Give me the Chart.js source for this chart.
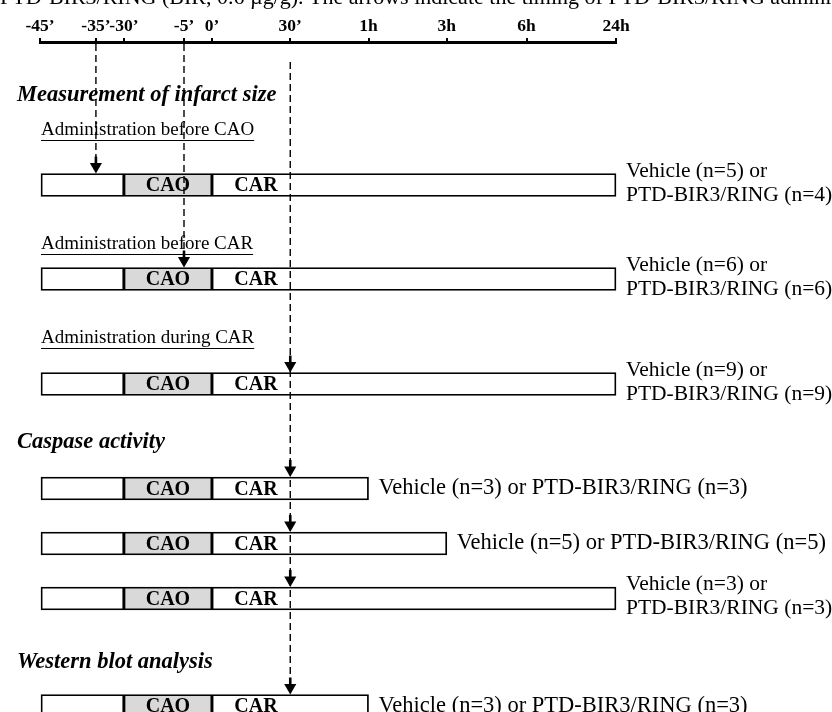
<!DOCTYPE html>
<html>
<head>
<meta charset="utf-8">
<script src="https://cdn.jsdelivr.net/npm/chart.js@4.4.1/dist/chart.umd.min.js"></script>
<style>
html, body { margin: 0; padding: 0; background: #fff; }
#wrap { width: 832px; height: 712px; position: relative; }
</style>
</head>
<body>
<div id="wrap"><canvas id="timeline"></canvas></div>
<script>
// time axis (non linear, as in the drawing)
const tickLabels = ["-45’", "-35’", "-30’", "-5’", "0’", "30’", "1h", "3h", "6h", "24h"];
const tickMinutes = [-45, -35, -30, -5, 0, 30, 60, 180, 360, 1440];
const tickSlots = [0, 2, 3, 5.15, 6.15, 8.95, 11.75, 14.55, 17.4, 20.6];

// protocols
const sections = ["Measurement of infarct size", "Caspase activity", "Western blot analysis"];
const rowSection = [0, 0, 0, 1, 1, 1, 2];
const rowSubtitle = ["Administration before CAO", "Administration before CAR", "Administration during CAR", "", "", "", ""];
const startMin = -45;
const caoMin = [-30, 0];
const rowEndMin = [1440, 1440, 1440, 60, 180, 1440, 60];
const doseMin = [-35, -5, 30, 30, 30, 30, 30];
const vehicleN = [5, 6, 9, 3, 5, 3, 3];
const birN = [4, 6, 9, 3, 5, 3, 3];
const twoLine = [true, true, true, false, false, true, false];

const caption = "PTD-BIR3/RING (BIR, 0.6 µg/g). The arrows indicate the timing of PTD-BIR3/RING administration";

// layout (vertical gaps below the axis)
const GAP = { top: 53, titleSub: 35, barSub: 59, subBar: [55, 35, 46], barTitle: [0, 58, 64], titleBar: [0, 46.5, 43.5], barBar: 55 };
const BAR_H = 23;
const SERIF = '"Liberation Serif", "Times New Roman", serif';

function slot(m) {
  for (let i = 1; i < tickMinutes.length; i++) {
    if (m <= tickMinutes[i]) {
      const a = tickMinutes[i - 1], b = tickMinutes[i];
      return tickSlots[i - 1] + (m - a) / (b - a) * (tickSlots[i] - tickSlots[i - 1]);
    }
  }
  return tickSlots[tickSlots.length - 1];
}

const titleY = [], subY = [], barY = [];
let cur = GAP.top;
rowSection.forEach((s, i) => {
  const newSec = i === 0 || s !== rowSection[i - 1];
  if (newSec) { if (i > 0) cur += GAP.barTitle[s]; titleY[s] = cur; }
  if (rowSubtitle[i]) {
    cur += newSec ? GAP.titleSub : GAP.barSub;
    subY[i] = cur;
    cur += GAP.subBar[i];
  } else {
    cur += newSec ? GAP.titleBar[s] : GAP.barBar;
  }
  barY[i] = cur;
});

const rows = rowSection.map((s, i) => i);
const barTop = i => barY[i] - BAR_H / 2;

const barStyle = { type: 'bar', indexAxis: 'y', grouped: false, barThickness: BAR_H, borderColor: '#000', borderWidth: 1.8, borderSkipped: false, clip: false, order: 3 };

const datasets = [
  Object.assign({}, barStyle, { data: rows.map(i => ({ y: barY[i], x: [slot(startMin), slot(caoMin[0])] })), backgroundColor: '#fff' }),
  Object.assign({}, barStyle, { data: rows.map(i => ({ y: barY[i], x: [slot(caoMin[0]), slot(caoMin[1])] })), backgroundColor: '#d9d9d9' }),
  Object.assign({}, barStyle, { data: rows.map(i => ({ y: barY[i], x: [slot(caoMin[1]), slot(rowEndMin[i])] })), backgroundColor: '#fff' })
];

// dashed guides from the axis down to the last arrow at that time
const guideTop = { "-35": 2, "-5": 2, "30": 20 };
[...new Set(doseMin)].forEach(t => {
  const last = Math.max(...rows.filter(i => doseMin[i] === t));
  datasets.push({
    type: 'line', data: [{ x: slot(t), y: guideTop[t] }, { x: slot(t), y: barTop(last) - 16 }],
    borderColor: '#000', borderWidth: 1.4, borderDash: [7, 4], pointRadius: 0, clip: false, order: 2
  });
});

// arrows
rows.forEach(i => {
  datasets.push({
    type: 'line', data: [{ x: slot(doseMin[i]), y: barTop(i) - 17 }, { x: slot(doseMin[i]), y: barTop(i) - 8 }],
    borderColor: '#000', borderWidth: 2.6, pointRadius: 0, clip: false, order: 1
  });
});
datasets.push({
  type: 'scatter', data: rows.map(i => ({ x: slot(doseMin[i]), y: barTop(i) - 7 })),
  pointStyle: 'triangle', rotation: 180, radius: 7, backgroundColor: '#000', borderColor: '#000', borderWidth: 0, clip: false, order: 0
});

const textPlugin = {
  id: 'texts',
  afterDatasetsDraw(chart) {
    const ctx = chart.ctx, xs = chart.scales.x, ys = chart.scales.y;
    const px = m => xs.getPixelForValue(slot(m));
    const py = v => ys.getPixelForValue(v);
    ctx.save();
    ctx.fillStyle = '#000';
    ctx.strokeStyle = '#000';

    // caption cut at the top
    ctx.font = '22px ' + SERIF;
    ctx.textBaseline = 'alphabetic';
    ctx.textAlign = 'left';
    ctx.fillText(caption, 0, 4);

    // section titles
    ctx.font = 'italic bold 22.5px ' + SERIF;
    ctx.textBaseline = 'middle';
    sections.forEach((t, s) => ctx.fillText(t, 17, py(titleY[s])));

    // underlined sub titles
    ctx.font = '19px ' + SERIF;
    rows.forEach(i => {
      if (!rowSubtitle[i]) return;
      const y = py(subY[i]);
      ctx.fillText(rowSubtitle[i], 41, y);
      const w = ctx.measureText(rowSubtitle[i]).width;
      ctx.lineWidth = 1;
      ctx.beginPath();
      ctx.moveTo(41, y + 10.5);
      ctx.lineTo(41 + w, y + 10.5);
      ctx.stroke();
    });

    // CAO / CAR inside the bars
    ctx.font = 'bold 20px ' + SERIF;
    ctx.textAlign = 'center';
    const caoW = px(caoMin[1]) - px(caoMin[0]);
    rows.forEach(i => {
      const y = py(barY[i]) + 1;
      ctx.fillText('CAO', px(caoMin[0]) + caoW / 2, y);
      ctx.fillText('CAR', px(caoMin[1]) + caoW / 2, y);
    });

    // group sizes
    ctx.textAlign = 'left';
    rows.forEach(i => {
      const x = px(rowEndMin[i]) + 10;
      const y = py(barY[i]);
      const a = 'Vehicle (n=' + vehicleN[i] + ') or', b = 'PTD-BIR3/RING (n=' + birN[i] + ')';
      if (twoLine[i]) {
        ctx.font = '21.5px ' + SERIF;
        ctx.fillText(a, x, y - 14);
        ctx.fillText(b, x, y + 10);
      } else {
        ctx.font = '22.5px ' + SERIF;
        ctx.fillText(a + ' ' + b, x, y);
      }
    });
    ctx.restore();
  }
};

new Chart(document.getElementById('timeline'), {
  type: 'bar',
  data: { datasets: datasets },
  options: {
    responsive: true,
    maintainAspectRatio: false,
    animation: false,
    layout: { autoPadding: false, padding: { left: 40, right: 216, top: 0, bottom: 0 } },
    plugins: { legend: { display: false }, tooltip: { enabled: false } },
    scales: {
      x: {
        type: 'linear', position: 'top', offset: false,
        min: tickSlots[0], max: tickSlots[tickSlots.length - 1],
        afterBuildTicks: s => { s.ticks = tickSlots.map(v => ({ value: v })); },
        afterFit: s => { s.height = 42; },
        ticks: {
          autoSkip: false, maxRotation: 0, padding: 1, color: '#000',
          font: { family: SERIF, size: 17.5, weight: 'bold' },
          callback: (v, idx) => tickLabels[idx]
        },
        grid: { offset: false, drawOnChartArea: false, drawTicks: true, tickLength: 4, color: '#000', lineWidth: 2 },
        border: { display: true, color: '#000', width: 3 }
      },
      y: { type: 'linear', display: false, offset: false, reverse: true, min: 0, max: 670, grid: { offset: false } }
    }
  },
  plugins: [textPlugin]
});
</script>
</body>
</html>
